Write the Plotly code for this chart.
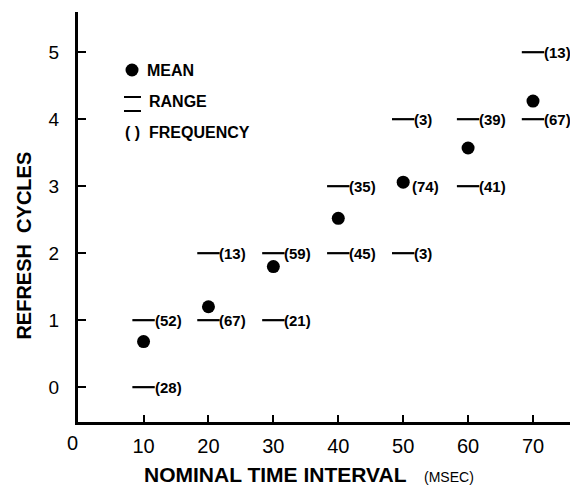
import plotly.graph_objects as go

# ---- data ----
intervals = [10, 20, 30, 40, 50, 60, 70]
mean_cycles = [0.68, 1.20, 1.80, 2.52, 3.06, 3.57, 4.27]

range_x = [10, 10, 20, 20, 30, 30, 40, 40, 50, 50, 50, 60, 60, 70, 70]
range_y = [0, 1, 1, 2, 1, 2, 2, 3, 2, 3, 4, 3, 4, 4, 5]
range_freq = [28, 52, 67, 13, 21, 59, 45, 35, 3, 74, 3, 41, 39, 67, 13]

x_tick_vals = [0, 10, 20, 30, 40, 50, 60, 70]
x_tick_text = ["0", "10", "20", "30", "40", "50", "60", "70"]
y_tick_vals = [0, 1, 2, 3, 4, 5]
y_tick_text = ["0", "1", "2", "3", "4", "5"]

FONT = "Liberation Sans"

# range dashes hidden where the mean dot sits on them
def covered(x, y):
    m = mean_cycles[intervals.index(x)]
    return abs(m - y) < 0.1

dash_x = [x for x, y in zip(range_x, range_y) if not covered(x, y)]
dash_y = [y for x, y in zip(range_x, range_y) if not covered(x, y)]

fig = go.Figure()
fig.add_trace(go.Scatter(
    x=dash_x, y=dash_y, mode="markers",
    marker=dict(symbol="line-ew", size=16, line=dict(width=2.2, color="black")),
    hoverinfo="skip", showlegend=False))
fig.add_trace(go.Scatter(
    x=intervals, y=mean_cycles, mode="markers",
    marker=dict(symbol="circle", size=13, color="black"),
    showlegend=False))

annotations = []
for x, y, f in zip(range_x, range_y, range_freq):
    annotations.append(dict(
        x=x, y=y, xref="x", yref="y", text=f"<b>({f})</b>", showarrow=False,
        xanchor="left", yanchor="middle", xshift=7 if covered(x, y) else 9,
        font=dict(family=FONT, size=15, color="black")))

# "0" label of the x axis sits just left of the vertical axis
annotations.append(dict(
    x=x_tick_vals[0], y=0, xref="x", yref="paper", text=x_tick_text[0],
    showarrow=False, xanchor="center", yanchor="top", xshift=-6, yshift=-8,
    font=dict(family=FONT, size=20, color="black")))

# legend (drawn in paper coordinates)
leg_font = dict(family=FONT, size=16, color="black", weight="bold")
annotations += [
    dict(x=0.136, y=0.8585, xref="paper", yref="paper", text="<b>MEAN</b>",
         showarrow=False, xanchor="left", yanchor="middle", font=leg_font),
    dict(x=0.1402, y=0.7805, xref="paper", yref="paper", text="<b>RANGE</b>",
         showarrow=False, xanchor="left", yanchor="middle", font=leg_font),
    dict(x=0.0915, y=0.7049, xref="paper", yref="paper", text="<b>( )  FREQUENCY</b>",
         showarrow=False, xanchor="left", yanchor="middle", font=leg_font),
]
shapes = [
    dict(type="circle", xref="paper", yref="paper", xsizemode="pixel", ysizemode="pixel",
         xanchor=0.1098, yanchor=0.8585, x0=-6.5, x1=6.5, y0=-6.5, y1=6.5,
         fillcolor="black", line=dict(width=0)),
    dict(type="line", xref="paper", yref="paper", x0=0.0935, x1=0.128, y0=0.7927, y1=0.7927,
         line=dict(width=2, color="black")),
    dict(type="line", xref="paper", yref="paper", x0=0.0935, x1=0.128, y0=0.7585, y1=0.7585,
         line=dict(width=2, color="black")),
]

# axis titles
annotations += [
    dict(x=0.47, y=-0.128, xref="paper", yref="paper",
         text="<b>NOMINAL TIME INTERVAL</b>\u00a0\u00a0 <span style='font-size:14px'>(MSEC)</span>",
         showarrow=False, xanchor="center", yanchor="middle",
         font=dict(family=FONT, size=21, color="black")),
    dict(x=-0.11, y=0.43, xref="paper", yref="paper",
         text="<b>REFRESH\u00a0 CYCLES</b>", textangle=-90,
         showarrow=False, xanchor="center", yanchor="middle",
         font=dict(family=FONT, size=20, color="black")),
]

# the page body has an 8px margin, so the figure is made 8px smaller
fig.update_layout(
    width=570, height=481,
    margin=dict(l=70, r=8, t=4, b=67),
    paper_bgcolor="white", plot_bgcolor="white",
    annotations=annotations, shapes=shapes,
    font=dict(family=FONT, color="black"),
    xaxis=dict(range=[-0.1, 75.7], showgrid=False, zeroline=False,
               showline=True, linewidth=3, linecolor="black",
               ticks="inside", ticklen=7, tickwidth=2, tickcolor="black",
               tickvals=x_tick_vals[1:], ticktext=x_tick_text[1:],
               tickfont=dict(family=FONT, size=20, color="black"),
               ticklabelstandoff=4),
    yaxis=dict(range=[-0.52, 5.6], showgrid=False, zeroline=False,
               showline=True, linewidth=3, linecolor="black",
               ticks="inside", ticklen=8, tickwidth=2, tickcolor="black",
               tickvals=y_tick_vals, ticktext=y_tick_text,
               tickfont=dict(family=FONT, size=19, color="black"),
               ticklabelstandoff=12),
)

fig.write_html("out.html")
